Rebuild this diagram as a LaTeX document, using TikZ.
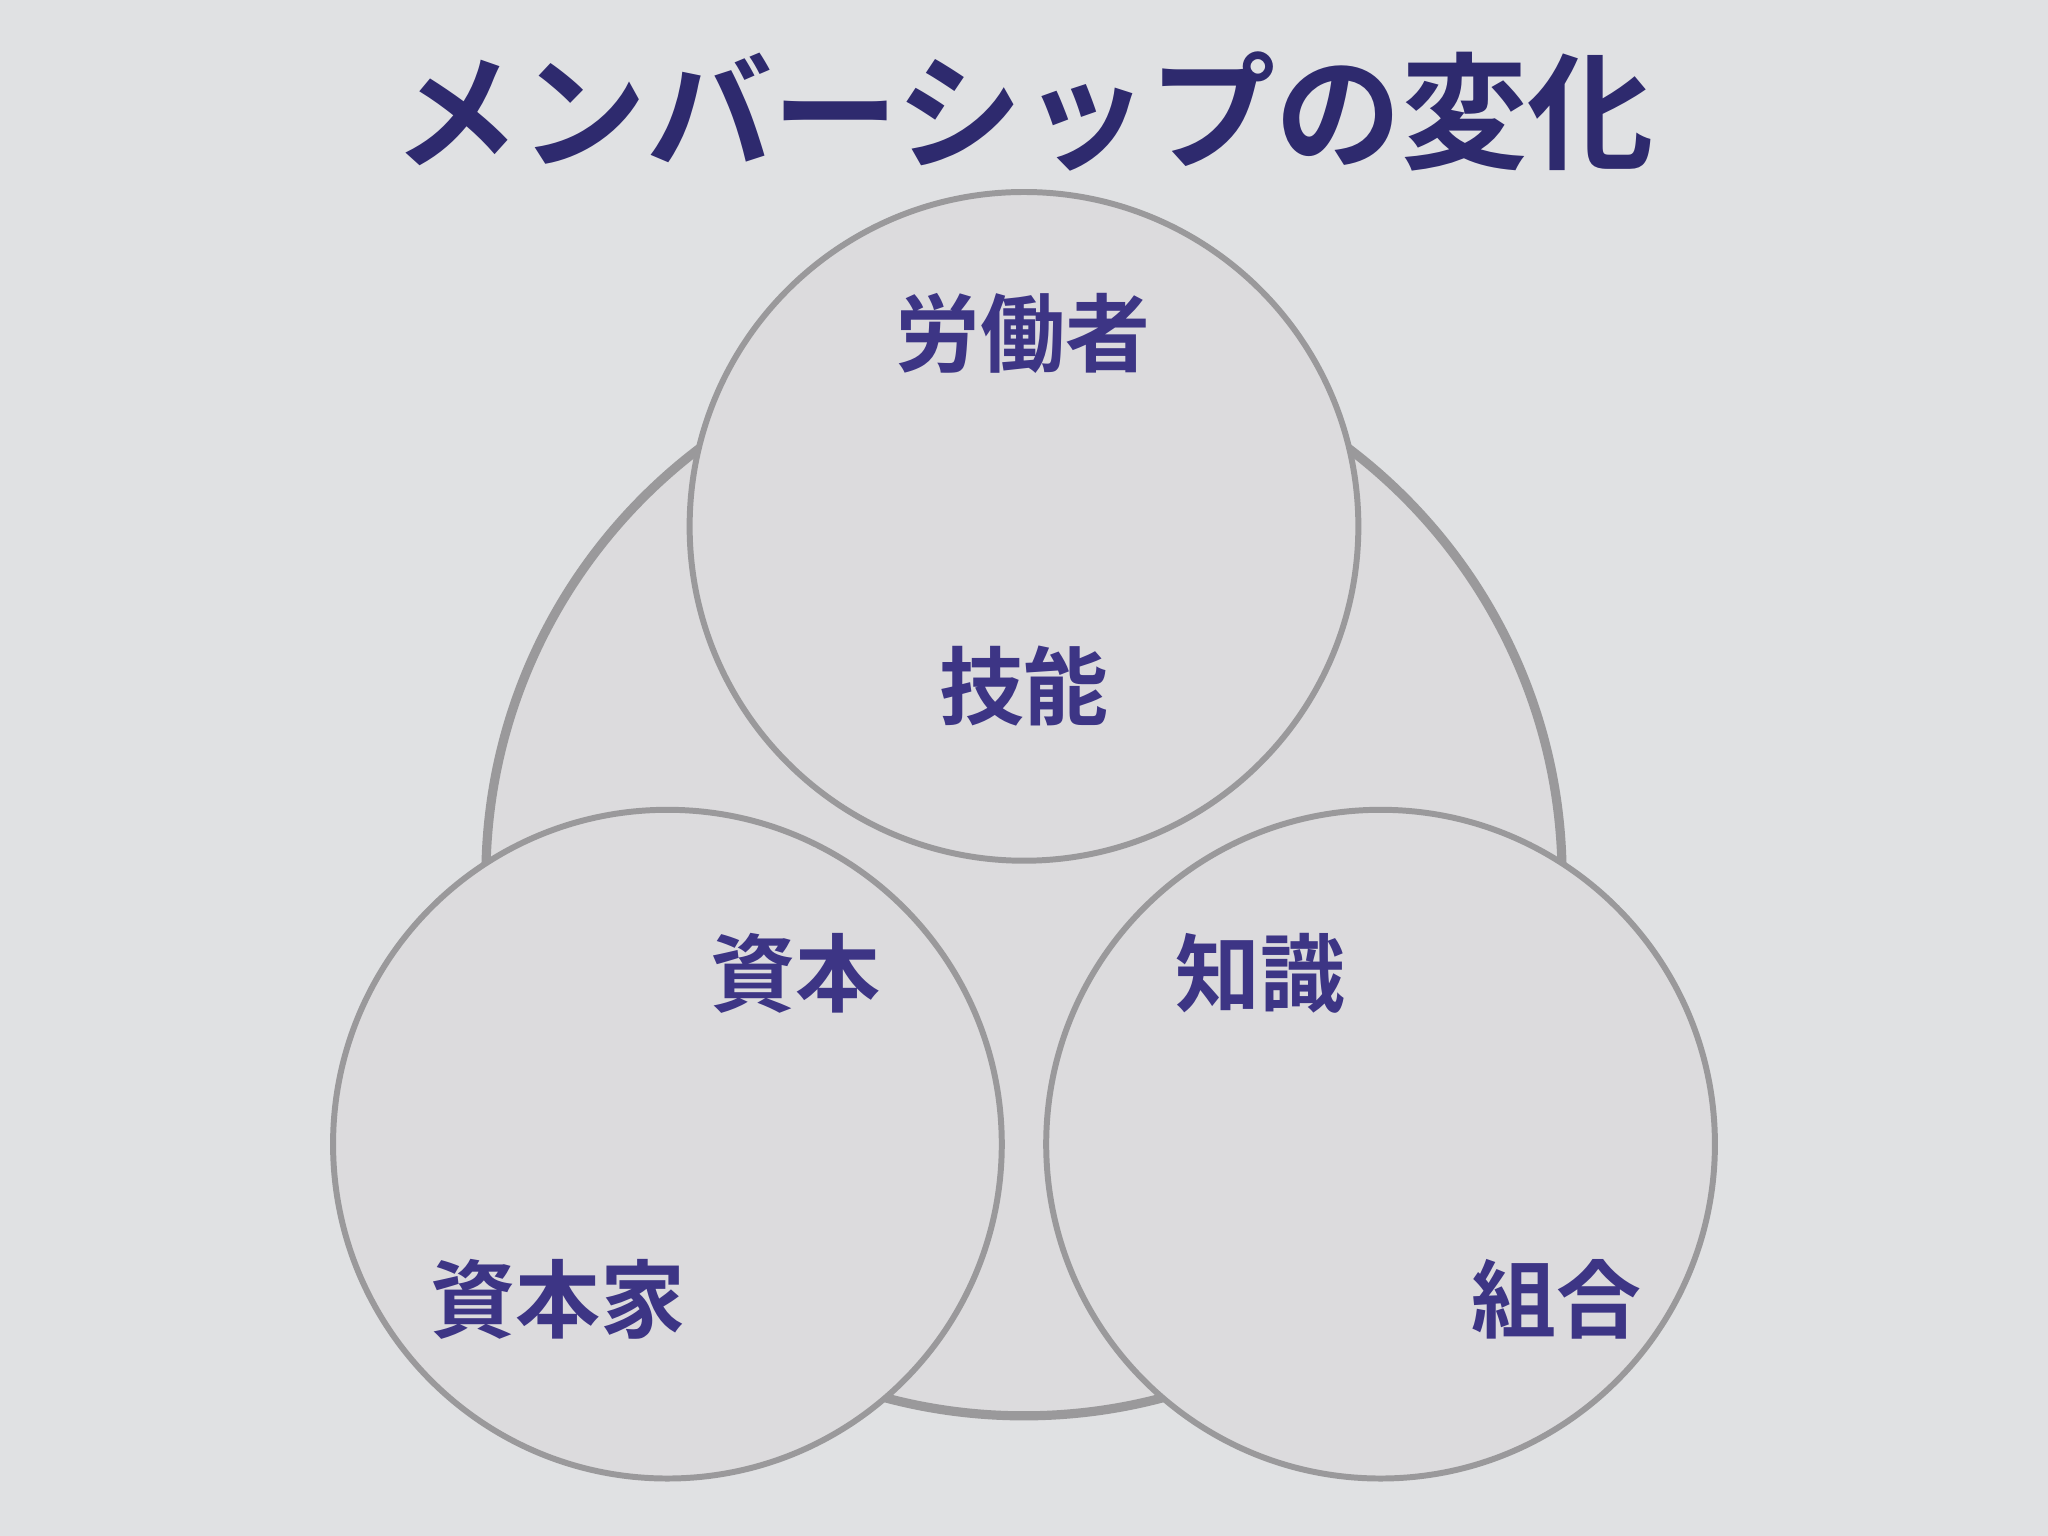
\documentclass[tikz,border=0pt]{standalone}
\usepackage{fontspec}
\newfontfamily\jpfont{Noto Sans CJK JP}[BoldFont={Noto Sans CJK JP Bold}]
\definecolor{bgc}{HTML}{E0E1E3}
\definecolor{cfill}{HTML}{DCDBDD}
\definecolor{cline}{HTML}{9A999B}
\definecolor{titlec}{HTML}{2E2A6E}
\definecolor{labc}{HTML}{3D3585}
\tikzset{
  bigc/.style={draw=cline, fill=cfill, line width=2pt},
  smallc/.style={draw=cline, fill=cfill, line width=1.3pt},
  lab/.style={text=labc, font=\jpfont\bfseries\fontsize{18.5}{20}\selectfont, inner sep=0pt},
  ttl/.style={text=titlec, font=\jpfont\bfseries\fontsize{27.5}{30}\selectfont, inner sep=0pt}
}
\begin{document}
\begin{tikzpicture}[x=0.01cm, y=-0.01cm]
\fill[bgc] (0,0) rectangle (1568,1176);
\useasboundingbox (0,0) rectangle (1568,1176);
\node[ttl] (title) at (784,85) {メンバーシップの変化};
\path[bigc] (784,672) circle[radius=412];
\coordinate (big) at (784,672);
\path[smallc] (784,403) circle[radius=256];
\path[smallc] (511,876) circle[radius=256];
\path[smallc] (1057,876) circle[radius=256];
\node[lab] (worker) at (783,255) {労働者};
\node[lab] (skill) at (784,525) {技能};
\node[lab] (capital) at (609,745) {資本};
\node[lab] (knowledge) at (965,745) {知識};
\node[lab] (capitalist) at (427,995) {資本家};
\node[lab] (union) at (1192,995) {組合};
\end{tikzpicture}
\end{document}
